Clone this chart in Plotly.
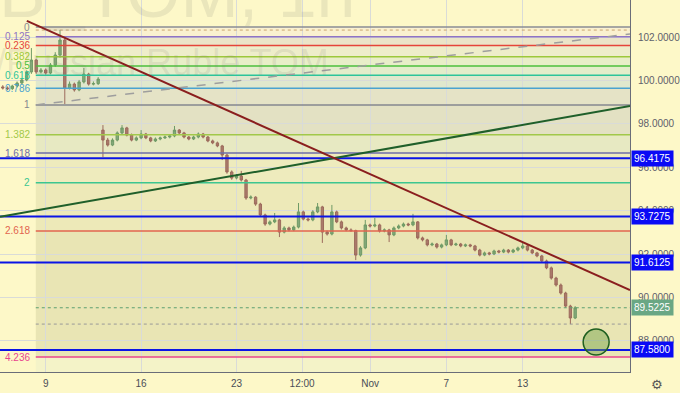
import plotly.graph_objects as go

# ---------------- data ----------------
opens = [99.70, 99.65, 99.62, 99.74, 99.88, 100.02, 100.39, 100.94, 100.39, 100.48,
         100.34, 100.71, 101.17, 101.86, 99.65, 99.83, 99.56, 99.93, 100.29, 99.83,
         99.85, 97.71, 97.25, 97.02, 97.25, 97.58, 97.81, 97.48, 97.25, 97.35,
         97.53, 97.35, 97.21, 97.30, 97.35, 97.39, 97.44, 97.71, 97.58, 97.39,
         97.30, 97.39, 97.53, 97.39, 97.21, 97.12, 96.98, 96.56, 95.78, 95.50,
         95.59, 95.41, 94.58, 94.62, 94.30, 93.80, 93.38, 93.48, 93.57, 93.01,
         93.20, 93.11, 93.24, 93.94, 93.61, 93.57, 93.94, 94.17, 93.01, 92.92,
         93.94, 93.48, 93.20, 93.11, 93.08, 91.95, 92.28, 93.34, 93.29, 93.34,
         93.06, 93.11, 92.88, 93.20, 93.29, 93.38, 93.34, 93.48, 92.74, 92.65,
         92.42, 92.46, 92.32, 92.42, 92.65, 92.42, 92.46, 92.37, 92.42, 92.37,
         92.18, 91.95, 92.05, 92.00, 92.14, 92.09, 92.18, 92.09, 92.18, 92.28,
         92.37, 92.18, 92.05, 91.91, 91.68, 91.36, 90.89, 90.57, 90.20, 89.60,
         89.05]
highs = [99.78, 99.72, 99.80, 99.95, 100.10, 100.46, 101.49, 101.00, 100.57, 100.55,
         100.80, 101.30, 102.32, 101.95, 99.95, 99.90, 100.02, 100.57, 100.35, 99.95,
         100.15, 97.94, 97.35, 97.33, 97.65, 97.94, 97.86, 97.55, 97.42, 97.71,
         97.58, 97.40, 97.37, 97.41, 97.46, 97.52, 97.90, 97.76, 97.63, 97.44,
         97.45, 97.60, 97.58, 97.44, 97.27, 97.18, 97.03, 96.62, 95.85, 95.68,
         95.83, 95.46, 94.70, 94.66, 94.36, 93.86, 93.55, 93.89, 93.62, 93.28,
         93.26, 93.31, 94.35, 94.00, 93.68, 94.02, 94.35, 94.22, 93.08, 94.26,
         94.00, 93.54, 93.26, 93.18, 93.12, 92.36, 93.57, 93.40, 93.66, 93.40,
         93.18, 93.16, 93.27, 93.36, 93.45, 93.44, 93.85, 93.52, 92.80, 92.70,
         92.53, 92.51, 92.48, 92.88, 92.70, 92.52, 92.51, 92.48, 92.47, 92.42,
         92.24, 92.11, 92.10, 92.20, 92.19, 92.24, 92.23, 92.24, 92.34, 92.51,
         92.42, 92.23, 92.10, 91.96, 91.74, 91.42, 90.95, 90.64, 90.26, 89.66,
         89.60]
lows = [99.58, 99.55, 99.56, 99.68, 99.82, 99.96, 100.30, 100.30, 100.32, 100.26,
        100.28, 100.62, 101.05, 98.91, 99.58, 99.48, 99.50, 99.86, 99.76, 99.77,
        99.79, 96.47, 96.95, 96.97, 97.19, 97.52, 97.42, 97.19, 97.20, 97.29,
        97.29, 97.15, 97.16, 97.24, 97.30, 97.33, 97.38, 97.52, 97.33, 97.24,
        97.25, 97.33, 97.33, 97.15, 97.06, 96.92, 96.33, 95.70, 95.42, 95.44,
        95.34, 94.50, 94.52, 94.22, 93.72, 93.30, 93.32, 93.42, 92.78, 92.95,
        93.04, 93.05, 93.18, 93.55, 93.50, 93.51, 93.88, 92.51, 92.85, 92.86,
        93.42, 93.13, 93.05, 93.02, 91.72, 91.88, 92.22, 93.22, 93.23, 92.99,
        93.00, 92.55, 92.82, 93.14, 93.23, 93.28, 93.28, 92.67, 92.58, 92.35,
        92.36, 92.25, 92.26, 92.36, 92.36, 92.37, 92.31, 92.32, 92.31, 92.12,
        91.89, 91.90, 91.94, 91.95, 92.03, 92.04, 92.03, 92.04, 92.12, 92.22,
        92.12, 91.99, 91.85, 91.62, 91.30, 90.82, 90.50, 90.13, 89.53, 88.77,
        89.00]
closes = [99.65, 99.62, 99.74, 99.88, 100.02, 100.39, 100.94, 100.39, 100.48, 100.34,
          100.71, 101.17, 101.86, 99.65, 99.83, 99.56, 99.93, 100.29, 99.83, 99.85,
          100.06, 97.25, 97.02, 97.25, 97.58, 97.81, 97.48, 97.25, 97.35, 97.53,
          97.35, 97.21, 97.30, 97.35, 97.39, 97.44, 97.71, 97.58, 97.39, 97.30,
          97.39, 97.53, 97.39, 97.21, 97.12, 96.98, 96.56, 95.78, 95.50, 95.59,
          95.41, 94.58, 94.62, 94.30, 93.80, 93.38, 93.48, 93.57, 93.01, 93.20,
          93.11, 93.24, 93.94, 93.61, 93.57, 93.94, 94.17, 93.01, 92.92, 93.94,
          93.48, 93.20, 93.11, 93.08, 91.95, 92.28, 93.34, 93.29, 93.34, 93.06,
          93.11, 92.88, 93.20, 93.29, 93.38, 93.34, 93.48, 92.74, 92.65, 92.42,
          92.46, 92.32, 92.42, 92.65, 92.42, 92.46, 92.37, 92.42, 92.37, 92.18,
          91.95, 92.05, 92.00, 92.14, 92.09, 92.18, 92.09, 92.18, 92.28, 92.37,
          92.18, 92.05, 91.91, 91.68, 91.36, 90.89, 90.57, 90.20, 89.60, 89.05,
          89.5225]
bar_start = -2.25   # trading-day index of the first bar (Oct 9 = 0)
bar_step = 0.25     # bar spacing in trading days

tick_vals = [0, 5, 10, 13.44, 17, 21, 25]
tick_text = ["9", "16", "23", "12:00", "Nov", "7", "13"]
price_ticks = [88, 90, 92, 94, 96, 98, 100, 102]

fib_top = 102.46
fib_bottom = 98.87
fib_start = -0.52
fib_ratios = [0, 0.125, 0.236, 0.382, 0.5, 0.618, 0.786, 1, 1.382, 1.618, 2, 2.618, 4.236]
fib_labels = ["0", "0.125", "0.236", "0.382", "0.5", "0.618", "0.786", "1",
              "1.382", "1.618", "2", "2.618", "4.236"]
fib_colors = ["#8a8c94", "#8f74c4", "#e5453a", "#9dc83a", "#4cbf3c", "#2cc49a", "#4aa3d0",
              "#85878f", "#a2c84a", "#6e6ea8", "#3cc690", "#e2644f", "#e8458e"]
fib_fills = ["#faf1cf", "#ebe5c8", "#eeedca", "#e8eec8", "#e3edca", "#e0e8cd",
             "#e5e3c6", "#e3e1c3", "#e7e9c2", "#eeebbd", "#ede9b8", "#e9e5b4"]
below_fill = "#f4f3c8"

blue_levels = [96.4175, 93.7275, 91.6125, 87.5800]
last_price = 89.5225
range_high = 102.32
range_low = 88.77

red_line = ([-0.99, 30.625], [102.74, 90.34])
green_line = ([-2.396, 30.625], [93.71, 98.82])
dash_line = ([-0.52, 30.625], [98.87, 102.14])

circle_center = (28.85, 87.94)
circle_radius = (0.68, 0.60)

x_range = [-2.396, 30.625]
y_range = [86.562, 103.705]

BG = "#fdf8c8"
GRID = "#d9dbd8"
AXIS = "#6a6d78"
FONT = "Liberation Sans, Arial, sans-serif"

# ---------------- figure ----------------
times = [bar_start + bar_step * i for i in range(len(closes))]

fig = go.Figure()
fig.add_trace(go.Candlestick(
    x=times, open=opens, high=highs, low=lows, close=closes,
    increasing=dict(line=dict(color="#6f9a66", width=1), fillcolor="#84a87a"),
    decreasing=dict(line=dict(color="#9c6a5c", width=1), fillcolor="#ab7a6b"),
    whiskerwidth=0, hoverinfo="skip"))

shapes = []
fib_prices = [fib_top - r * (fib_top - fib_bottom) for r in fib_ratios]

# fib background bands
for k in range(len(fib_prices) - 1):
    shapes.append(dict(type="rect", xref="x", yref="y", layer="below",
                       x0=fib_start, x1=x_range[1], y0=fib_prices[k + 1], y1=fib_prices[k],
                       fillcolor=fib_fills[k], line=dict(width=0)))
shapes.append(dict(type="rect", xref="x", yref="y", layer="below",
                   x0=fib_start, x1=x_range[1], y0=y_range[0], y1=fib_prices[-1],
                   fillcolor=below_fill, line=dict(width=0)))

# fib level lines
for p, col in zip(fib_prices, fib_colors):
    shapes.append(dict(type="line", xref="x", yref="y", layer="above",
                       x0=fib_start, x1=x_range[1], y0=p, y1=p,
                       line=dict(color=col, width=1.5)))

# price lines (high / low / last)
shapes.append(dict(type="line", xref="x", yref="y", x0=fib_start, x1=x_range[1],
                   y0=range_high, y1=range_high, line=dict(color="#c9a26e", width=1, dash="dot")))
shapes.append(dict(type="line", xref="x", yref="y", x0=fib_start, x1=x_range[1],
                   y0=range_low, y1=range_low, line=dict(color="#9a9a9a", width=1, dash="dot")))
shapes.append(dict(type="line", xref="x", yref="y", x0=fib_start, x1=x_range[1],
                   y0=last_price, y1=last_price, line=dict(color="#5c9f70", width=1, dash="dot")))

# blue horizontal levels
for p in blue_levels:
    shapes.append(dict(type="line", xref="paper", yref="y", x0=0, x1=1, y0=p, y1=p,
                       line=dict(color="#0a14e6", width=2)))

# trend lines
shapes.append(dict(type="line", xref="x", yref="y",
                   x0=dash_line[0][0], x1=dash_line[0][1], y0=dash_line[1][0], y1=dash_line[1][1],
                   line=dict(color="#9e9e9e", width=1.5, dash="dash")))
shapes.append(dict(type="line", xref="x", yref="y",
                   x0=green_line[0][0], x1=green_line[0][1], y0=green_line[1][0], y1=green_line[1][1],
                   line=dict(color="#1f5f2a", width=2)))
shapes.append(dict(type="line", xref="x", yref="y",
                   x0=red_line[0][0], x1=red_line[0][1], y0=red_line[1][0], y1=red_line[1][1],
                   line=dict(color="#8a1e1e", width=2)))

# circle
cx, cy = circle_center
rx, ry = circle_radius
shapes.append(dict(type="circle", xref="x", yref="y", x0=cx - rx, x1=cx + rx, y0=cy - ry, y1=cy + ry,
                   fillcolor="rgba(110,160,70,0.45)", line=dict(color="#1f5f1f", width=1.5)))

annotations = []
# watermark
annotations.append(dict(text="USDRUB_TOM, 1h", xref="paper", yref="paper", x=360 / 634, y=1 - 18 / 372,
                        xanchor="right", yanchor="bottom", showarrow=False, yshift=-16,
                        font=dict(family=FONT, size=70, color="rgba(120,118,110,0.14)")))
annotations.append(dict(text="U.S. Dollar/Russian Ruble TOM", xref="paper", yref="paper",
                        x=333 / 634, y=1 - 72 / 372, xanchor="right", yanchor="bottom", yshift=-13,
                        showarrow=False,
                        font=dict(family=FONT, size=36, color="rgba(120,118,110,0.14)")))

# fib labels
for p, lab, col in zip(fib_prices, fib_labels, fib_colors):
    annotations.append(dict(text=lab, x=fib_start, y=p, xref="x", yref="y", xanchor="right",
                            yanchor="middle", xshift=-4, showarrow=False,
                            font=dict(family=FONT, size=10, color=col)))

# price labels on the right axis
for p in blue_levels:
    annotations.append(dict(text="%.4f" % p, x=1, y=p, xref="paper", yref="y", xanchor="left",
                            yanchor="middle", xshift=1, showarrow=False, bgcolor="#0a0af5",
                            borderpad=2, font=dict(family=FONT, size=10, color="white")))
annotations.append(dict(text="%.4f" % last_price, x=1, y=last_price, xref="paper", yref="y",
                        xanchor="left", yanchor="middle", xshift=1, showarrow=False,
                        bgcolor="#6aa784", borderpad=2,
                        font=dict(family=FONT, size=10, color="white")))
# settings icon
annotations.append(dict(text="⚙", x=1, y=0, xref="paper", yref="paper", xanchor="left",
                        yanchor="top", xshift=19, yshift=-3, showarrow=False,
                        font=dict(family="DejaVu Sans", size=13, color="#555")))

fig.update_layout(
    width=680, height=393, margin=dict(l=0, r=46, t=0, b=21),
    paper_bgcolor=BG, plot_bgcolor=BG, showlegend=False,
    shapes=shapes, annotations=annotations,
    xaxis=dict(range=x_range, tickvals=tick_vals, ticktext=tick_text, showgrid=True,
               gridcolor=GRID, zeroline=False, showline=True, linecolor=AXIS, ticks="",
               ticklabelstandoff=2,
               tickfont=dict(family=FONT, size=10, color="#4a4d57"),
               rangeslider=dict(visible=False), fixedrange=True),
    yaxis=dict(range=y_range, side="right", tickvals=price_ticks, tickformat=".4f",
               showgrid=True, gridcolor=GRID, zeroline=False, showline=True, linecolor=AXIS,
               ticks="", ticklabelstandoff=5,
               tickfont=dict(family=FONT, size=10, color="#5d606b"), fixedrange=True),
)

fig.write_html("out.html", config={"displayModeBar": False},
               post_script="document.body.style.margin='0';document.body.style.padding='0';"
                           "document.body.style.background='" + BG + "';")
